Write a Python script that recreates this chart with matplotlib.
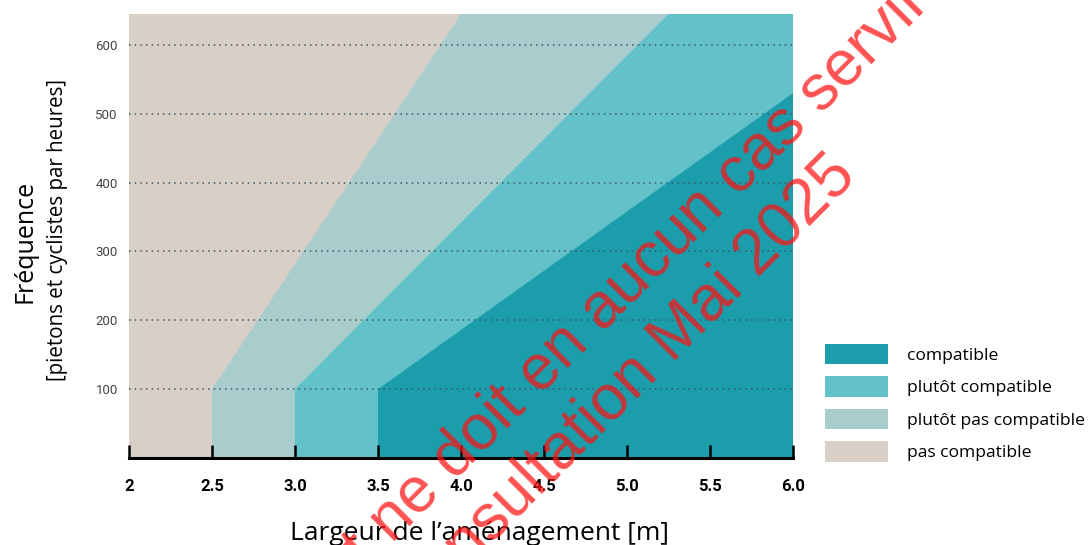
import numpy as np
import matplotlib.pyplot as plt
from matplotlib.patches import Patch

# zones de compatibilité (de la plus favorable à la moins favorable)
categories = ['compatible', 'plutôt compatible', 'plutôt pas compatible', 'pas compatible']
colors = ['#1b9dab', '#63c1c9', '#a9cccc', '#d8d0c7']

# limites entre zones : palier vertical jusqu'à 100 pers/h puis droite oblique
freq_palier = 100
largeur_palier = [3.5, 3.0, 2.5]   # compatible, plutôt compatible, plutôt pas compatible
largeur_haut = [6.0, 5.25, 4.0]
freq_haut = [530, 645, 645]

x_ticks = [2, 2.5, 3.0, 3.5, 4.0, 4.5, 5.0, 5.5, 6.0]
x_labels = ['2', '2.5', '3.0', '3.5', '4.0', '4.5', '5.0', '5.5', '6.0']
y_ticks = [100, 200, 300, 400, 500, 600]
x_min, x_max = 2, 6
y_max = 645

W, H = 1089, 545
fig = plt.figure(figsize=(W / 100, H / 100), dpi=100)
ax = fig.add_axes([129 / W, 1 - 458 / H, (793 - 129) / W, (458 - 14) / H])

# fond = pas compatible
ax.fill([x_min, x_min, x_max, x_max], [0, y_max, y_max, 0], color=colors[3], lw=0)
# zones par-dessus, de la moins à la plus favorable
for i in [2, 1, 0]:
    xp, xh, yh = largeur_palier[i], largeur_haut[i], freq_haut[i]
    ax.fill([xp, xp, xh, x_max, x_max], [0, freq_palier, yh, yh, 0], color=colors[i], lw=0)

ax.set_xlim(x_min, x_max)
ax.set_ylim(0, y_max)

ax.set_yticks(y_ticks)
ax.set_xticks(x_ticks)
ax.set_xticklabels(x_labels, family='Roboto', fontweight='bold', fontsize=12)
ax.set_yticklabels([str(v) for v in y_ticks], family='Roboto', fontsize=9.5, color='#444444')
ax.tick_params(axis='y', length=0, pad=8)
ax.tick_params(axis='x', direction='in', length=9.5, width=1.8, color='black', pad=15)

ax.grid(axis='y', linestyle=(0, (1, 2.7)), color='#3e5868', lw=1.1)
ax.grid(axis='x', visible=False)
ax.set_axisbelow(False)

for s in ['top', 'right', 'left']:
    ax.spines[s].set_visible(False)
ax.spines['bottom'].set_linewidth(2.2)
ax.spines['bottom'].set_color('black')

# titres des axes
fig.text(25 / W, 1 - 241 / H, 'Fréquence', rotation=90, ha='center', va='center',
         family='Open Sans', fontsize=18)
fig.text(58 / W, 1 - 230 / H, '[pietons et cyclistes par heures]', rotation=90,
         ha='center', va='center', family='Open Sans', fontsize=14.8)
fig.text(480 / W, 1 - 540 / H, 'Largeur de l’aménagement [m]', ha='center', va='baseline',
         family='Open Sans', fontsize=19)

# légende
handles = [Patch(facecolor=c, edgecolor='none') for c in colors]
fig.legend(handles, categories, loc='upper left', bbox_to_anchor=(825 / W, 1 - 344 / H),
           frameon=False, prop={'family': 'Open Sans', 'size': 12.6}, handlelength=3.6,
           handleheight=1.4, handletextpad=1.1, labelspacing=0.7, borderpad=0,
           borderaxespad=0)

# filigrane
wm = dict(rotation=45, rotation_mode='anchor', ha='right', va='baseline',
          family='Liberation Sans', fontsize=46, color='#ff1010', alpha=0.72)
fig.text(931 / W, 1 - 4 / H, 'Ce document ne doit en aucun cas servir', **wm)
fig.text(858 / W, 1 - 177 / H, 'consultation Mai 2025', **wm)

fig.savefig('out.png', dpi=100)
